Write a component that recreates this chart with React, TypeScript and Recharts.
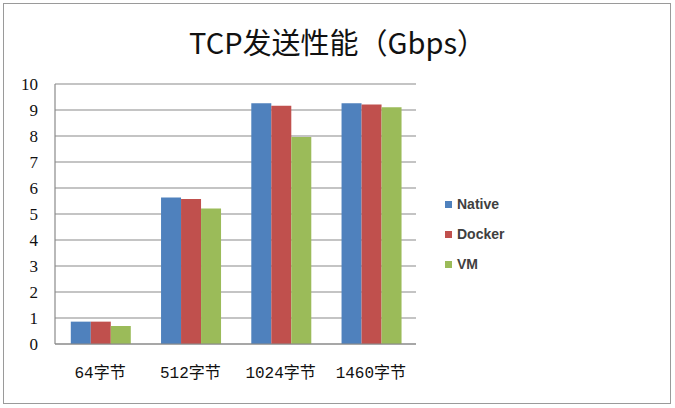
import { Bar, BarChart, CartesianGrid, Legend, XAxis, YAxis } from 'recharts';

const categories = ['64字节', '512字节', '1024字节', '1460字节'];
const nativeValues = [0.86, 5.63, 9.26, 9.26];
const dockerValues = [0.86, 5.58, 9.16, 9.21];
const vmValues = [0.69, 5.21, 7.96, 9.11];
const yTicks = [0, 1, 2, 3, 4, 5, 6, 7, 8, 9, 10];

const series = [
  { key: 'Native', color: '#4F81BD' },
  { key: 'Docker', color: '#C0504D' },
  { key: 'VM', color: '#9BBB59' },
];

const data = categories.map((name, i) => ({
  name,
  Native: nativeValues[i],
  Docker: dockerValues[i],
  VM: vmValues[i],
}));

const LegendBox = () => (
  <div>
    {series.map((s) => (
      <div
        key={s.key}
        style={{
          display: 'flex',
          alignItems: 'center',
          height: 30,
          fontFamily: '"Liberation Sans", Arial, sans-serif',
          fontWeight: 'bold',
          fontSize: 14,
          color: '#404040',
        }}
      >
        <span
          style={{
            display: 'inline-block',
            width: 7,
            height: 7,
            background: s.color,
            marginRight: 5,
          }}
        />
        {s.key}
      </div>
    ))}
  </div>
);

export default function App() {
  return (
    <div
      style={{
        position: 'absolute',
        left: 0,
        top: 0,
        width: 675,
        height: 408,
        background: '#fff',
      }}
    >
      <div
        style={{
          position: 'absolute',
          left: 3,
          top: 3,
          width: 666,
          height: 399,
          border: '1.5px solid #9a9a9a',
        }}
      />
      <div
        style={{
          position: 'absolute',
          left: 0,
          top: 21,
          width: 675,
          textAlign: 'center',
          fontFamily: '"Noto Sans CJK SC", sans-serif',
          fontSize: 29,
          color: '#111',
          lineHeight: '40px',
        }}
      >
        TCP发送性能（Gbps）
      </div>
      <BarChart
        width={675}
        height={408}
        data={data}
        margin={{ top: 84, right: 259, bottom: 34, left: 15 }}
        barGap={0}
        barCategoryGap="17.5%"
        style={{ position: 'absolute', left: 0, top: 0 }}
      >
        <CartesianGrid vertical={false} stroke="#8a8a8a" strokeWidth={1.2} />
        <XAxis
          dataKey="name"
          height={30}
          axisLine={{ stroke: '#8a8a8a', strokeWidth: 1.2 }}
          tickLine={false}
          tickMargin={17}
          tick={{
            fontSize: 16,
            fill: '#111',
            fontFamily: '"Liberation Mono", "Noto Sans CJK SC", monospace',
          }}
        />
        <YAxis
          width={40}
          domain={[0, 10]}
          ticks={yTicks}
          interval={0}
          axisLine={{ stroke: '#8a8a8a', strokeWidth: 1.2 }}
          tickLine={false}
          tickMargin={11}
          tick={{
            fontSize: 17,
            fill: '#111',
            fontFamily: '"Liberation Serif", serif',
          }}
        />
        <Legend
          layout="vertical"
          align="center"
          verticalAlign="middle"
          content={<LegendBox />}
          wrapperStyle={{ left: 445, top: 189, width: 120, height: 90 }}
        />
        {series.map((s) => (
          <Bar
            key={s.key}
            dataKey={s.key}
            fill={s.color}
            isAnimationActive={false}
          />
        ))}
      </BarChart>
    </div>
  );
}
